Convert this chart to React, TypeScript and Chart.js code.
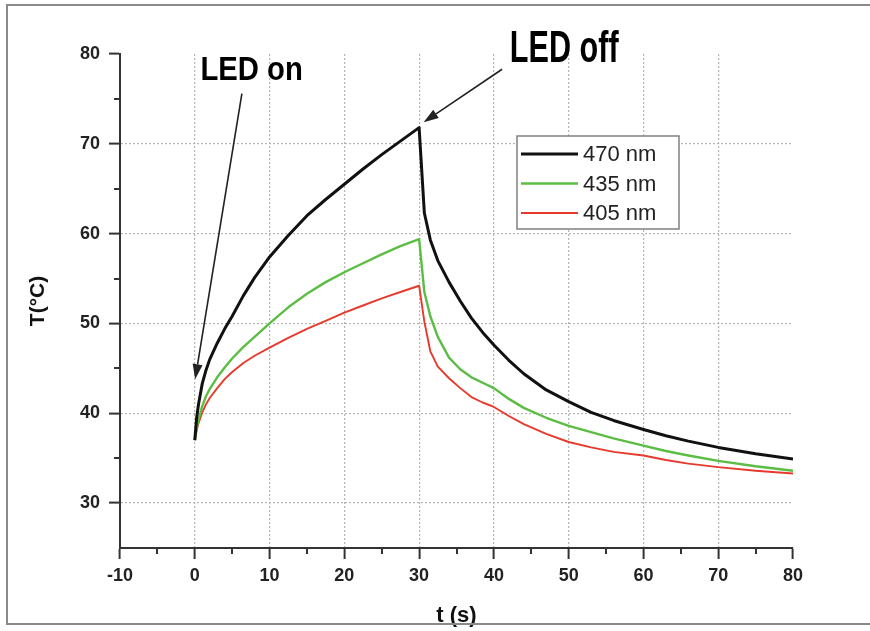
import React, { useEffect, useRef } from "react";
import { Chart, registerables } from "chart.js";

Chart.register(...registerables);

// ---- data ----
const TIME = [0, 0.25, 0.5, 1, 1.5, 2, 3, 4, 5, 6.5, 8, 10, 12.5, 15, 17.5, 20, 22.5, 25, 27.5, 30,
  30.7, 31.5, 32.5, 34, 35.5, 37, 38.5, 40, 42, 44, 47, 50, 53, 56, 60, 63, 66, 70, 75, 80];
const T_470 = [37, 39.5, 41, 43.3, 44.8, 46, 47.8, 49.4, 50.8, 53.1, 55.1, 57.4, 59.8, 62, 63.8, 65.5, 67.2, 68.8, 70.3, 71.8,
  62.3, 59.3, 57.0, 54.6, 52.5, 50.6, 49.0, 47.6, 45.9, 44.4, 42.6, 41.3, 40.1, 39.2, 38.2, 37.5, 36.9, 36.2, 35.5, 34.9];
const T_435 = [37, 38.3, 39.3, 40.8, 41.9, 42.7, 44, 45.1, 46.1, 47.4, 48.5, 50, 51.8, 53.3, 54.6, 55.7, 56.7, 57.7, 58.6, 59.4,
  53.5, 50.8, 48.5, 46.2, 44.9, 44.0, 43.4, 42.8, 41.6, 40.6, 39.5, 38.6, 37.9, 37.2, 36.4, 35.8, 35.3, 34.7, 34.1, 33.6];
const T_405 = [37, 38.1, 38.9, 40.1, 41, 41.7, 42.8, 43.8, 44.6, 45.6, 46.4, 47.3, 48.4, 49.4, 50.3, 51.2, 52, 52.8, 53.5, 54.2,
  50.2, 46.9, 45.2, 43.9, 42.8, 41.8, 41.2, 40.7, 39.7, 38.8, 37.7, 36.8, 36.2, 35.7, 35.3, 34.8, 34.4, 34.0, 33.6, 33.3];
const SERIES_LABELS = ["470 nm", "435 nm", "405 nm"];

const X_MIN = -10;
const X_MAX = 80;
const Y_MIN = 25;
const Y_MAX = 80;
const X_TICK_LABELS = ["-10", "0", "10", "20", "30", "40", "50", "60", "70", "80"];
const Y_TICK_LABELS = ["30", "40", "50", "60", "70", "80"];
const X_TITLE = "t (s)";
const Y_TITLE = "T(°C)";

// annotations (data coordinates)
const NOTE_TEXTS = ["LED on", "LED off"];
const NOTE_TEXT_POS = [[7.6, 77.1], [49.4, 79.1]];
const NOTE_ARROW_FROM = [[6.3, 75.6], [41.1, 78.3]];
const NOTE_ARROW_TO = [[0.05, 43.8], [30.6, 72.4]];

// ---- styles ----
const COLORS = ["#111111", "#5cbd44", "#e83a2c"];
const WIDTHS = [3, 2.4, 1.9];
const FONT = "'Liberation Sans', Arial, sans-serif";

const decorPlugin = {
  id: "decor",
  afterDraw(chart: any) {
    const { ctx, chartArea, scales } = chart;
    const xs = scales.x;
    const ys = scales.y;
    ctx.save();

    // outer frame
    ctx.strokeStyle = "#8a8a8a";
    ctx.lineWidth = 2;
    ctx.beginPath();
    ctx.moveTo(870, 5);
    ctx.lineTo(7, 5);
    ctx.lineTo(7, 624);
    ctx.lineTo(870, 624);
    ctx.stroke();

    // minor ticks
    ctx.strokeStyle = "#333";
    ctx.lineWidth = 2;
    ctx.beginPath();
    for (let v = X_MIN + 5; v < X_MAX; v += 10) {
      const px = Math.round(xs.getPixelForValue(v));
      ctx.moveTo(px, chartArea.bottom);
      ctx.lineTo(px, chartArea.bottom + 6);
    }
    for (let v = 35; v < Y_MAX; v += 10) {
      const py = Math.round(ys.getPixelForValue(v));
      ctx.moveTo(chartArea.left, py);
      ctx.lineTo(chartArea.left - 6, py);
    }
    ctx.stroke();

    // arrows
    ctx.strokeStyle = "#222";
    ctx.fillStyle = "#222";
    for (let i = 0; i < NOTE_TEXTS.length; i++) {
      const x1 = xs.getPixelForValue(NOTE_ARROW_FROM[i][0]);
      const y1 = ys.getPixelForValue(NOTE_ARROW_FROM[i][1]);
      const x2 = xs.getPixelForValue(NOTE_ARROW_TO[i][0]);
      const y2 = ys.getPixelForValue(NOTE_ARROW_TO[i][1]);
      const ang = Math.atan2(y2 - y1, x2 - x1);
      const headLen = 15;
      const headW = 5;
      const bx = x2 - headLen * Math.cos(ang);
      const by = y2 - headLen * Math.sin(ang);
      ctx.lineWidth = 1.6;
      ctx.beginPath();
      ctx.moveTo(x1, y1);
      ctx.lineTo(bx, by);
      ctx.stroke();
      ctx.beginPath();
      ctx.moveTo(x2, y2);
      ctx.lineTo(bx + headW * Math.sin(ang), by - headW * Math.cos(ang));
      ctx.lineTo(bx - headW * Math.sin(ang), by + headW * Math.cos(ang));
      ctx.closePath();
      ctx.fill();
    }

    // annotation texts
    const noteFonts = [34, 45];
    const noteScale = [0.86, 0.68];
    ctx.fillStyle = "#000";
    ctx.textAlign = "center";
    ctx.textBaseline = "alphabetic";
    for (let i = 0; i < NOTE_TEXTS.length; i++) {
      const px = xs.getPixelForValue(NOTE_TEXT_POS[i][0]);
      const py = ys.getPixelForValue(NOTE_TEXT_POS[i][1]);
      ctx.save();
      ctx.translate(px, py);
      ctx.scale(noteScale[i], 1);
      ctx.font = `bold ${noteFonts[i]}px ${FONT}`;
      ctx.fillText(NOTE_TEXTS[i], 0, 0);
      ctx.restore();
    }

    // legend
    const bx0 = 517, by0 = 136, bw = 162, bh = 93;
    ctx.fillStyle = "#fff";
    ctx.fillRect(bx0, by0, bw, bh);
    ctx.strokeStyle = "#808080";
    ctx.lineWidth = 1.5;
    ctx.strokeRect(bx0, by0, bw, bh);
    ctx.font = `22px ${FONT}`;
    ctx.textAlign = "left";
    ctx.textBaseline = "middle";
    chart.data.datasets.forEach((ds: any, i: number) => {
      const y = by0 + 18 + i * 29.5;
      ctx.strokeStyle = ds.borderColor;
      ctx.lineWidth = ds.borderWidth;
      ctx.beginPath();
      ctx.moveTo(bx0 + 4, y);
      ctx.lineTo(bx0 + 61, y);
      ctx.stroke();
      ctx.fillStyle = "#222";
      ctx.fillText(ds.label, bx0 + 66, y + 1);
    });

    ctx.restore();
  },
};

export default function App() {
  const ref = useRef<HTMLCanvasElement>(null);

  useEffect(() => {
    if (!ref.current) return;
    const seriesValues = [T_470, T_435, T_405];
    const chart = new Chart(ref.current, {
      type: "line",
      data: {
        datasets: seriesValues.map((vals, i) => ({
          label: SERIES_LABELS[i],
          data: TIME.map((t, j) => ({ x: t, y: vals[j] })),
          borderColor: COLORS[i],
          backgroundColor: COLORS[i],
          borderWidth: WIDTHS[i],
          borderJoinStyle: "round" as const,
          pointRadius: 0,
          tension: 0,
          fill: false,
        })),
      },
      options: {
        animation: false,
        responsive: false,
        devicePixelRatio: 1,
        layout: { padding: { left: 0, top: 54, right: 77, bottom: 0 } },
        plugins: { legend: { display: false }, tooltip: { enabled: false } },
        scales: {
          x: {
            type: "linear",
            min: X_MIN,
            max: X_MAX,
            afterFit: (s: any) => { s.height = 83; },
            ticks: {
              stepSize: 5,
              autoSkip: false,
              maxRotation: 0,
              padding: 6,
              color: "#222",
              font: { family: FONT, size: 18, weight: "bold" },
              callback: (v: any) => (X_TICK_LABELS.includes(String(v)) ? String(v) : ""),
            },
            grid: {
              color: (c: any) => {
                const v = c.tick ? c.tick.value : 0;
                return X_TICK_LABELS.includes(String(v)) && v !== X_MIN && v !== X_MAX ? "#b5b5b5" : "rgba(0,0,0,0)";
              },
              lineWidth: 1.2,
              tickLength: 11,
              tickWidth: 2,
              tickColor: (c: any) => {
                const v = c.tick ? c.tick.value : 0;
                return X_TICK_LABELS.includes(String(v)) ? "#333" : "rgba(0,0,0,0)";
              },
            },
            border: { display: true, color: "#333", width: 2, dash: [2, 2] },
            title: {
              display: true,
              text: X_TITLE,
              color: "#111",
              font: { family: FONT, size: 22, weight: "bold" },
              padding: { top: 0, bottom: 2 },
            },
          },
          y: {
            type: "linear",
            min: Y_MIN,
            max: Y_MAX,
            afterFit: (s: any) => { s.width = 120; },
            ticks: {
              stepSize: 5,
              autoSkip: false,
              padding: 9,
              color: "#222",
              font: { family: FONT, size: 18, weight: "bold" },
              callback: (v: any) => (Y_TICK_LABELS.includes(String(v)) ? String(v) : ""),
            },
            grid: {
              color: (c: any) => {
                const v = c.tick ? c.tick.value : 0;
                return Y_TICK_LABELS.includes(String(v)) && v !== Y_MAX ? "#b5b5b5" : "rgba(0,0,0,0)";
              },
              lineWidth: 1.2,
              tickLength: 11,
              tickWidth: 2,
              tickColor: (c: any) => {
                const v = c.tick ? c.tick.value : 0;
                return Y_TICK_LABELS.includes(String(v)) ? "#333" : "rgba(0,0,0,0)";
              },
            },
            border: { display: true, color: "#333", width: 2, dash: [2, 2] },
            title: {
              display: true,
              text: Y_TITLE,
              color: "#111",
              font: { family: FONT, size: 21, weight: "bold" },
              padding: { top: 26, bottom: 0 },
            },
          },
        },
      },
      plugins: [decorPlugin],
    });
    return () => chart.destroy();
  }, []);

  return (
    <div style={{ position: "fixed", left: 0, top: 0, width: 870, height: 631, background: "#fff" }}>
      <canvas ref={ref} width={870} height={631} style={{ display: "block" }} />
    </div>
  );
}
